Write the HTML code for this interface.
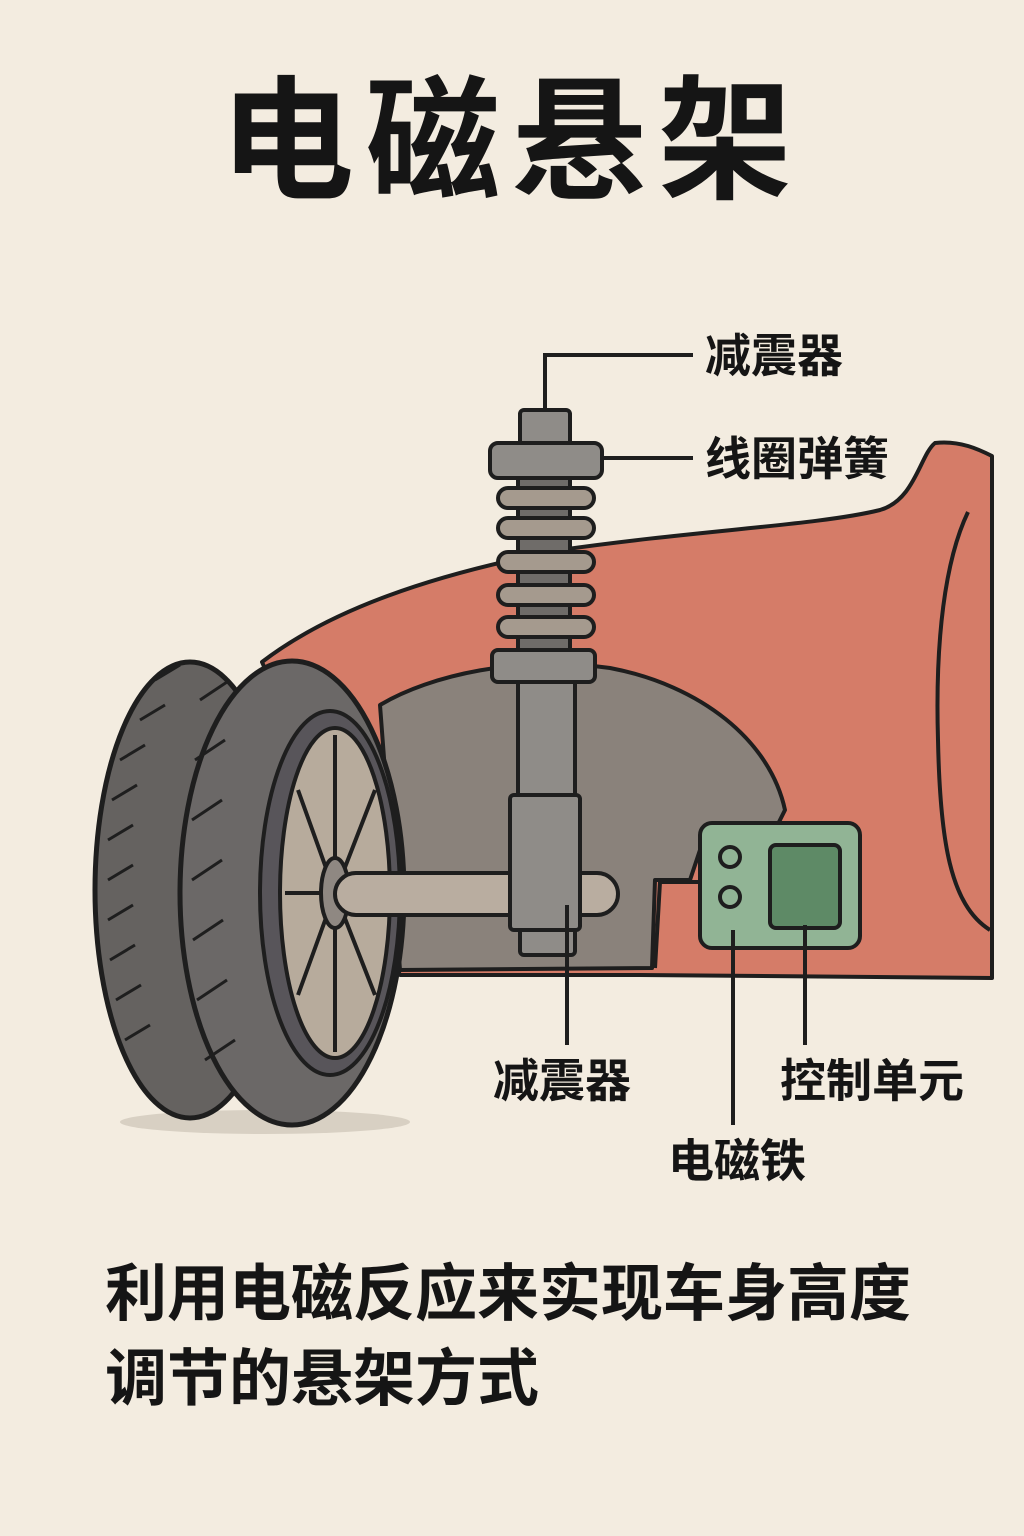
<!DOCTYPE html>
<html><head><meta charset="utf-8"><style>
html,body{margin:0;padding:0;background:#f3ece0;}
svg{display:block}
text{font-family:"Liberation Sans","Noto Sans CJK SC",sans-serif;font-weight:bold;fill:#151515}
</style></head><body>
<svg width="1024" height="1536" viewBox="0 0 1024 1536" xmlns="http://www.w3.org/2000/svg">
<rect width="1024" height="1536" fill="#f3ece0"/>
<text x="512" y="188" font-size="134" text-anchor="middle" letter-spacing="12">电磁悬架</text>

<!-- car body -->
<path d="M262,662 C330,610 430,575 560,550 C700,530 820,525 880,510 C915,500 920,455 935,443 C960,440 980,450 992,456 L992,978 L640,975 L400,975 Z" fill="#d57c68" stroke="#1e1e1e" stroke-width="4" stroke-linejoin="round"/>
<path d="M968,512 C945,560 935,640 938,740 C940,840 950,905 990,930" fill="none" stroke="#1e1e1e" stroke-width="4"/>
<!-- wheel arch -->
<path d="M380,705 C430,675 520,655 610,668 C700,685 770,740 785,810 L770,840 L700,850 L690,880 L655,880 L652,968 L400,970 Z" fill="#8a827b" stroke="#1e1e1e" stroke-width="4" stroke-linejoin="round"/>

<!-- shadow -->
<ellipse cx="265" cy="1122" rx="145" ry="12" fill="#d8d0c3"/>
<!-- tire back -->
<ellipse cx="190" cy="890" rx="95" ry="228" fill="#656260" stroke="#1e1e1e" stroke-width="5"/>
<!-- tire front -->
<ellipse cx="292" cy="893" rx="112" ry="232" fill="#6b6867" stroke="#1e1e1e" stroke-width="5"/>
<g stroke="#1e1e1e" stroke-width="3" fill="none">
<path d="M120,760 l25,-15 M112,800 l25,-15 M108,840 l25,-15 M108,880 l25,-15 M108,920 l25,-15 M110,960 l25,-15 M116,1000 l25,-15 M125,1040 l25,-15 M140,720 l25,-15 M155,680 l25,-15"/>
<path d="M200,700 l30,-20 M195,760 l30,-20 M192,820 l30,-20 M192,880 l30,-20 M193,940 l30,-20 M197,1000 l30,-20 M205,1060 l30,-20"/>
</g>
<ellipse cx="330" cy="893" rx="70" ry="182" fill="#58555a" stroke="#1e1e1e" stroke-width="4"/>
<ellipse cx="335" cy="893" rx="55" ry="165" fill="#b7ab9c" stroke="#1e1e1e" stroke-width="4"/>
<g stroke="#1e1e1e" stroke-width="4">
<line x1="335" y1="893" x2="335" y2="735"/><line x1="335" y1="893" x2="335" y2="1052"/>
<line x1="335" y1="893" x2="375" y2="790"/><line x1="335" y1="893" x2="298" y2="790"/>
<line x1="335" y1="893" x2="375" y2="995"/><line x1="335" y1="893" x2="298" y2="995"/>
<line x1="335" y1="893" x2="385" y2="893"/><line x1="335" y1="893" x2="285" y2="893"/>
</g>
<ellipse cx="335" cy="893" rx="14" ry="35" fill="#8f8882" stroke="#1e1e1e" stroke-width="4"/>
<!-- axle -->
<rect x="335" y="873" width="283" height="42" rx="21" fill="#b9ada0" stroke="#1e1e1e" stroke-width="4"/>

<!-- shock -->
<g stroke="#1e1e1e" stroke-width="4" fill="#8f8c88">
<rect x="520" y="410" width="50" height="40" rx="4"/>
<rect x="518" y="478" width="52" height="180" fill="#6f6c69"/>
<rect x="490" y="443" width="112" height="35" rx="8"/>
<rect x="498" y="488" width="96" height="20" rx="10" fill="#a59a8e"/>
<rect x="498" y="518" width="96" height="20" rx="10" fill="#a59a8e"/>
<rect x="498" y="552" width="96" height="20" rx="10" fill="#a59a8e"/>
<rect x="498" y="585" width="96" height="20" rx="10" fill="#a59a8e"/>
<rect x="498" y="617" width="96" height="20" rx="10" fill="#a59a8e"/>
<rect x="492" y="650" width="103" height="32" rx="6"/>
<rect x="518" y="682" width="57" height="115"/>
<rect x="520" y="925" width="55" height="30" rx="4"/>
<rect x="510" y="795" width="70" height="135" rx="4"/>
</g>

<!-- control unit -->
<path d="M700,882 L660,882 L655,968" fill="none" stroke="#1e1e1e" stroke-width="4"/>
<rect x="700" y="823" width="160" height="125" rx="12" fill="#91b495" stroke="#1e1e1e" stroke-width="4"/>
<rect x="770" y="845" width="70" height="83" rx="6" fill="#5e8a66" stroke="#1e1e1e" stroke-width="4"/>
<circle cx="730" cy="857" r="10" fill="#91b495" stroke="#1e1e1e" stroke-width="4"/>
<circle cx="730" cy="897" r="10" fill="#91b495" stroke="#1e1e1e" stroke-width="4"/>

<!-- leaders -->
<g stroke="#1e1e1e" stroke-width="4" fill="none">
<path d="M545,410 L545,355 L693,355"/>
<path d="M602,458 L693,458"/>
<path d="M567,905 L567,1045"/>
<path d="M733,930 L733,1125"/>
<path d="M805,925 L805,1045"/>
</g>

<text x="705" y="372" font-size="46">减震器</text>
<text x="705" y="475" font-size="46">线圈弹簧</text>
<text x="493" y="1097" font-size="46">减震器</text>
<text x="780" y="1097" font-size="46">控制单元</text>
<text x="668" y="1177" font-size="46">电磁铁</text>

<text x="105" y="1315" font-size="62">利用电磁反应来实现车身高度</text>
<text x="105" y="1400" font-size="62">调节的悬架方式</text>
</svg>
</body></html>
